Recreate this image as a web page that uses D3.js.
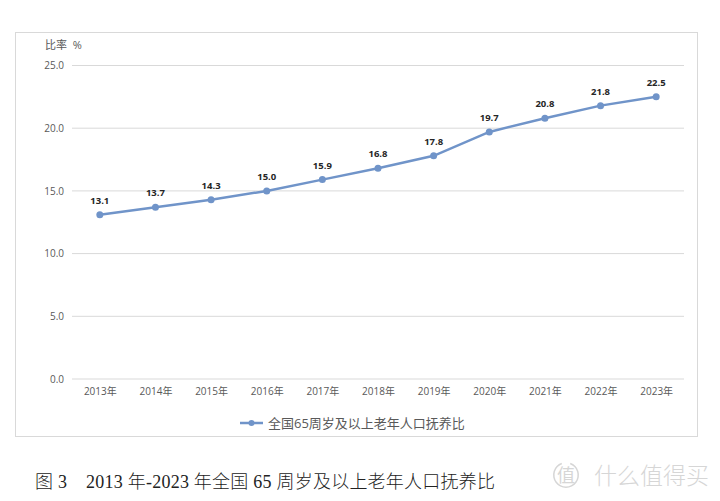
<!DOCTYPE html>
<html>
<head>
<meta charset="utf-8">
<title>老年人口抚养比</title>
<script src="https://cdn.jsdelivr.net/npm/d3@7"></script>
<style>
  body { margin: 0; background: #fff; }
  svg text { font-family: "Open Sans", "Noto Sans CJK SC", sans-serif; }
  .axis text { fill: #595959; font-size: 10px; }
</style>
</head>
<body>
<script>
// data
var years = ["2013年", "2014年", "2015年", "2016年", "2017年", "2018年", "2019年", "2020年", "2021年", "2022年", "2023年"];
var ratio = [13.1, 13.7, 14.3, 15.0, 15.9, 16.8, 17.8, 19.7, 20.8, 21.8, 22.5];
var yTicks = [0, 5, 10, 15, 20, 25];
var seriesName = "全国65周岁及以上老年人口抚养比";

var width = 720, height = 501;
var plotLeft = 72, plotRight = 684, plotTop = 65.5, plotBottom = 379;
var lineColor = "#7094c9";

var svg = d3.select("body").append("svg")
  .attr("width", width)
  .attr("height", height);

// chart frame
svg.append("rect")
  .attr("x", 15.5).attr("y", 32.5)
  .attr("width", 682).attr("height", 404)
  .attr("fill", "#fff")
  .attr("stroke", "#d9d9d9");

var x = d3.scalePoint().domain(years).range([plotLeft, plotRight]).padding(0.5);
var y = d3.scaleLinear().domain([0, 25]).range([plotBottom, plotTop]);

// gridlines
svg.append("g").selectAll("line")
  .data(yTicks)
  .enter().append("line")
  .attr("x1", plotLeft).attr("x2", plotRight)
  .attr("y1", function (d) { return y(d); })
  .attr("y2", function (d) { return y(d); })
  .attr("stroke", "#d9d9d9")
  .attr("stroke-width", 1);

var yAxis = d3.axisLeft(y).tickValues(yTicks).tickFormat(d3.format(".1f")).tickSize(0).tickPadding(8);
svg.append("g")
  .attr("class", "axis")
  .attr("transform", "translate(" + plotLeft + ",0)")
  .call(yAxis)
  .call(function (g) { g.select(".domain").remove(); });

var xAxis = d3.axisBottom(x).tickSize(0).tickPadding(9);
svg.append("g")
  .attr("class", "axis")
  .attr("transform", "translate(0," + plotBottom + ")")
  .call(xAxis)
  .call(function (g) { g.select(".domain").remove(); });

svg.append("text")
  .attr("x", 45).attr("y", 49)
  .attr("font-size", "11px")
  .attr("fill", "#595959")
  .attr("xml:space", "preserve")
  .text("比率  %");

// line + markers
var line = d3.line()
  .x(function (d, i) { return x(years[i]); })
  .y(function (d) { return y(d); });

svg.append("path")
  .datum(ratio)
  .attr("d", line)
  .attr("fill", "none")
  .attr("stroke", lineColor)
  .attr("stroke-width", 2.5);

svg.selectAll(".dot")
  .data(ratio)
  .enter().append("circle")
  .attr("class", "dot")
  .attr("cx", function (d, i) { return x(years[i]); })
  .attr("cy", function (d) { return y(d); })
  .attr("r", 3.5)
  .attr("fill", lineColor);

svg.selectAll(".lbl")
  .data(ratio)
  .enter().append("text")
  .attr("class", "lbl")
  .attr("x", function (d, i) { return x(years[i]); })
  .attr("y", function (d) { return y(d) - 11; })
  .attr("text-anchor", "middle")
  .attr("font-size", "9.5px")
  .attr("font-weight", "bold")
  .attr("fill", "#262626")
  .text(function (d) { return d.toFixed(1); });

// legend
var lg = svg.append("g").attr("transform", "translate(240,423)");
lg.append("line")
  .attr("x1", 0).attr("x2", 23)
  .attr("stroke", lineColor).attr("stroke-width", 2.5);
lg.append("circle").attr("cx", 11.5).attr("r", 3).attr("fill", lineColor);
lg.append("text")
  .attr("x", 28).attr("dy", "0.35em")
  .attr("font-size", "13px")
  .attr("fill", "#595959")
  .text(seriesName);

// caption
svg.append("text")
  .attr("x", 35).attr("y", 488)
  .style("font-family", "'Liberation Serif', 'Noto Sans CJK SC', serif")
  .attr("font-size", "18px")
  .attr("font-weight", 300)
  .attr("fill", "#222")
  .attr("xml:space", "preserve")
  .attr("textLength", 460)
  .attr("lengthAdjust", "spacing")
  .text("图 3    2013 年-2023 年全国 65 周岁及以上老年人口抚养比");

// watermark
var wm = svg.append("g").attr("fill", "#d6d6d6");
wm.append("path")
  .attr("d", d3.arc()({ innerRadius: 11.5, outerRadius: 13, startAngle: 0.35, endAngle: 2 * Math.PI - 0.35 }))
  .attr("transform", "translate(566,475)");
wm.append("text")
  .attr("x", 566).attr("y", 482)
  .attr("text-anchor", "middle")
  .attr("font-size", "18px")
  .text("值");
wm.append("text")
  .attr("x", 594).attr("y", 484)
  .attr("font-size", "23px")
  .attr("font-weight", 300)
  .text("什么值得买");
</script>
</body>
</html>
